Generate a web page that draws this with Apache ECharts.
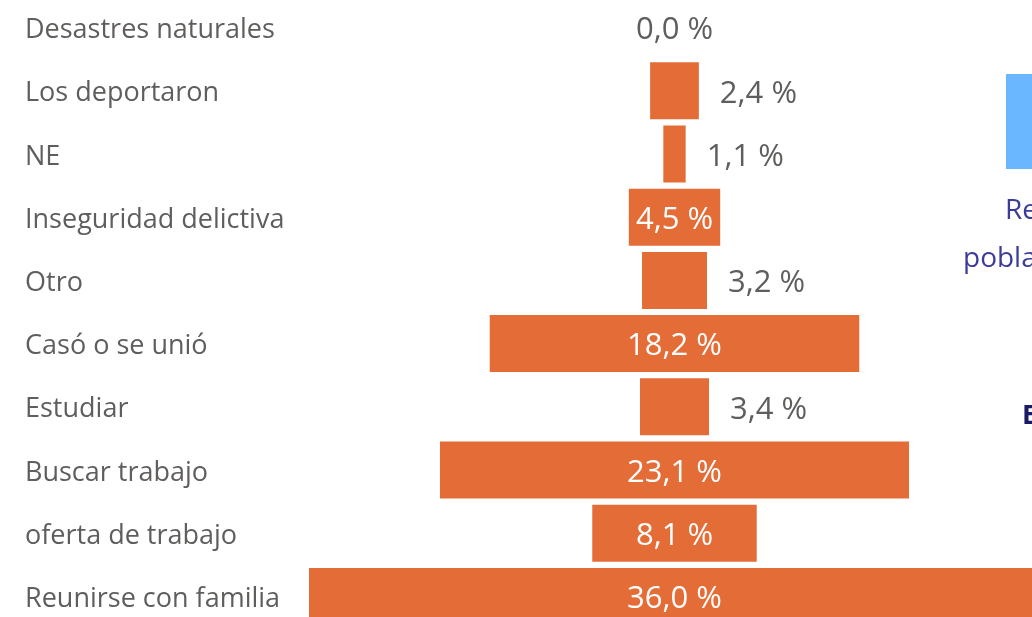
<!DOCTYPE html>
<html style="height: 100%">
<head>
<meta charset="utf-8">
<script src="https://cdn.jsdelivr.net/npm/echarts@6/dist/echarts.min.js"></script>
</head>
<body style="height: 100%; margin: 0; background: #fff">
<div id="container" style="width: 1032px; height: 617px"></div>
<script type="text/javascript">
var categories = ['Desastres naturales', 'Los deportaron', 'NE', 'Inseguridad delictiva', 'Otro',
    'Casó o se unió', 'Estudiar', 'Buscar trabajo', 'oferta de trabajo', 'Reunirse con familia'];
var values = [0.0, 2.4, 1.1, 4.5, 3.2, 18.2, 3.4, 23.1, 8.1, 36.0];

var maxVal = Math.max.apply(null, values);
var fontFam = '"Open Sans", "Noto Sans", sans-serif';
var gray = '#605E5C';

var fmt = function (v) {
    return v.toFixed(1).replace('.', ',') + ' %';
};

// invisible offset so each bar is centred on the funnel axis
var offsets = values.map(function (v) { return (maxVal - v) / 2; });
var bars = values.map(function (v) {
    var lbl;
    if (v === 0) {
        lbl = { position: 'inside', color: gray };
    } else if (v < 4) {
        lbl = { position: 'right', distance: 21, color: gray };
    } else {
        lbl = { position: 'inside', color: '#fff' };
    }
    return { value: v, label: lbl };
});

var dom = document.getElementById('container');
var myChart = echarts.init(dom);
var option = {
    backgroundColor: '#fff',
    animation: false,
    grid: { left: 309, width: 731, top: -4, height: 632, outerBoundsMode: 'none', containLabel: false },
    xAxis: {
        type: 'value', min: 0, max: maxVal,
        show: false
    },
    yAxis: {
        type: 'category',
        data: categories,
        inverse: true,
        axisLine: { show: false },
        axisTick: { show: false },
        axisLabel: {
            align: 'left',
            margin: 284,
            formatter: '{c|{value}}',
            rich: {
                c: {
                    color: gray,
                    fontSize: 27,
                    fontFamily: fontFam,
                    padding: [6, 0, 0, 0]
                }
            }
        }
    },
    series: [{
        type: 'bar',
        stack: 'f',
        data: offsets,
        itemStyle: { color: 'transparent' },
        barWidth: 57,
        silent: true
    }, {
        type: 'bar',
        stack: 'f',
        data: bars,
        barWidth: 57,
        itemStyle: { color: '#E46C37' },
        label: {
            show: true,
            fontSize: 31,
            fontFamily: fontFam,
            offset: [0, 3],
            formatter: function (p) { return fmt(p.value); }
        }
    }],
    graphic: [
        { type: 'rect', shape: { x: 1006, y: 74, width: 40, height: 95 }, style: { fill: '#6ab7ff' } },
        { type: 'text', x: 1005, y: 211, style: { text: 'Re', fill: '#3b3b9b', font: '28px ' + fontFam, verticalAlign: 'middle' } },
        { type: 'text', x: 963, y: 259, style: { text: 'pobla', fill: '#3b3b9b', font: '28px ' + fontFam, verticalAlign: 'middle' } },
        { type: 'text', x: 1022, y: 416, style: { text: 'E', fill: '#1a1a66', font: 'bold 27px ' + fontFam, verticalAlign: 'middle' } }
    ]
};
myChart.setOption(option, true);
</script>
</body>
</html>
